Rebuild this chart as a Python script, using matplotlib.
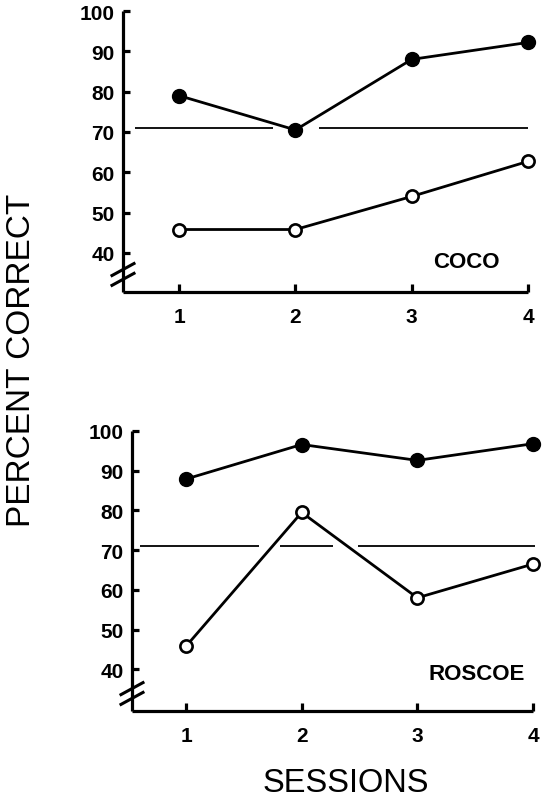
import matplotlib
matplotlib.use("Agg")
import matplotlib.pyplot as plt
from matplotlib.lines import Line2D

plt.rcParams['font.family'] = ['Liberation Sans', 'DejaVu Sans']

sessions = [1, 2, 3, 4]
yticks = [40, 50, 60, 70, 80, 90, 100]
criterion = 71

coco_filled = [79, 70.5, 88, 92.2]
coco_open = [45.8, 45.8, 54, 62.7]
coco_criterion_segments = [(0.62, 1.81), (2.2, 4.0)]

roscoe_filled = [87.9, 96.6, 92.6, 96.8]
roscoe_open = [45.8, 79.5, 58, 66.5]
roscoe_criterion_segments = [(0.6, 1.63), (1.81, 2.27), (2.49, 4.02)]

W, H = 543, 803
fig = plt.figure(figsize=(W / 100, H / 100), dpi=100)


def panel(rect, filled, opened, segs, name, ylo, xlo, name_xy):
    ax = fig.add_axes(rect)
    ax.set_xlim(xlo, 4.0)
    ax.set_ylim(ylo, 100)
    for s in ('top', 'right'):
        ax.spines[s].set_visible(False)
    for s in ('left', 'bottom'):
        ax.spines[s].set_linewidth(2.3)
        ax.spines[s].set_capstyle('butt')
    for a, b in segs:
        ax.plot([a, b], [criterion, criterion], color='black', lw=1.3,
                solid_capstyle='butt', clip_on=False, zorder=2)
    ax.plot(sessions, filled, color='black', lw=2.0, marker='o', ms=10,
            mfc='black', mec='black', clip_on=False, zorder=3)
    ax.plot(sessions, opened, color='black', lw=2.0, marker='o', ms=8.8,
            mfc='white', mec='black', mew=1.9, clip_on=False, zorder=3)
    ax.set_yticks(yticks)
    ax.set_yticklabels([str(v) for v in yticks])
    ax.set_xticks(sessions)
    ax.set_xticklabels([str(v) for v in sessions])
    ax.tick_params(axis='y', direction='in', length=5, width=2.3,
                   labelsize=15, pad=6)
    ax.tick_params(axis='x', direction='in', length=6, width=2.3,
                   labelsize=15, pad=11)
    for lab in ax.get_xticklabels() + ax.get_yticklabels():
        lab.set_fontweight('bold')
    ax.text(name_xy[0], name_xy[1], name, fontsize=16, fontweight='bold',
            ha='center', va='center', transform=ax.transData)
    # axis break marks
    bb = ax.get_position()
    pw = bb.width * W
    ph = bb.height * H
    for yc in (0.045, 0.08):
        dx = 11 / pw
        dy = 6 / ph
        ax.add_line(Line2D([-dx, dx], [yc - dy, yc + dy],
                           transform=ax.transAxes, color='black', lw=2.2,
                           clip_on=False))
    return ax


# top panel: axes from x=123..528 px, y=12..293 px
panel([123 / W, 1 - 293 / H, (528 - 123) / W, (293 - 12) / H],
      coco_filled, coco_open, coco_criterion_segments, 'COCO',
      30.3, 0.517, (3.47, 37.8))
# bottom panel: axes from x=132..533 px, y=432..712 px
panel([132 / W, 1 - 712 / H, (533 - 132) / W, (712 - 432) / H],
      roscoe_filled, roscoe_open, roscoe_criterion_segments, 'ROSCOE',
      29.5, 0.533, (3.51, 39.0))

fig.text(22 / W, 1 - 360 / H, 'PERCENT CORRECT', rotation=90, fontsize=24,
         ha='center', va='center')
fig.text(346 / W, 1 - 784 / H, 'SESSIONS', fontsize=23.5,
         ha='center', va='center')

fig.savefig('out.png', dpi=100)
